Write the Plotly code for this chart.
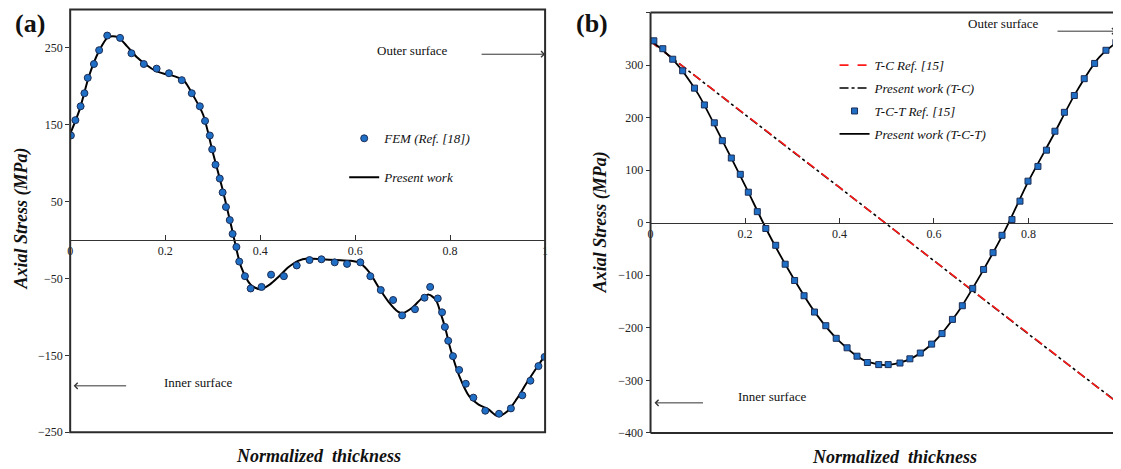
import plotly.graph_objects as go

# ---------------- Data: panel (a) ----------------
fem_x = [0.0015, 0.011, 0.022, 0.030, 0.037, 0.050, 0.061, 0.078, 0.105, 0.129, 0.155, 0.182,
         0.208, 0.235, 0.256, 0.273, 0.284, 0.294, 0.299, 0.306, 0.315, 0.321, 0.328, 0.336,
         0.342, 0.350, 0.356, 0.368, 0.380, 0.403, 0.423, 0.450, 0.477, 0.504, 0.529, 0.557,
         0.583, 0.611, 0.632, 0.654, 0.680, 0.699, 0.726, 0.746, 0.758, 0.774, 0.783, 0.789,
         0.796, 0.806, 0.819, 0.833, 0.849, 0.874, 0.903, 0.928, 0.952, 0.969, 0.986, 0.999]
fem_y = [136, 156, 174, 191, 211, 229, 247, 266, 263, 243, 229, 223,
         217, 208, 191, 174, 155, 136, 118, 98, 80, 62, 43, 26,
         8, -9, -28, -47, -63, -61, -45, -47, -33, -26, -25, -29,
         -31, -29, -47, -65, -78, -98, -90, -75, -61, -76, -94, -113,
         -131, -151, -169, -187, -205, -222, -226, -219, -202, -183, -164, -152]

pw_a_x = [0, 0.02, 0.04, 0.06, 0.08, 0.10, 0.12, 0.14, 0.16, 0.18, 0.20, 0.22, 0.24, 0.26,
          0.28, 0.30, 0.32, 0.34, 0.36, 0.38, 0.40, 0.42, 0.44, 0.46, 0.48, 0.50, 0.53, 0.56,
          0.59, 0.61, 0.63, 0.65, 0.67, 0.69, 0.70, 0.72, 0.74, 0.755, 0.77, 0.78, 0.79, 0.80,
          0.82, 0.84, 0.86, 0.88, 0.90, 0.92, 0.94, 0.96, 0.98, 1.00]
pw_a_y = [138, 170, 214, 245, 264, 264, 252, 238, 228, 220, 216, 213, 207, 187,
          163, 115, 68, 16, -35, -58, -64, -58, -47, -35, -27, -24, -25, -26,
          -27, -30, -42, -62, -80, -93, -95, -88, -76, -71, -78, -95, -115, -140,
          -178, -203, -214, -220, -229, -223, -207, -187, -168, -150]

# ---------------- Data: panel (b) ----------------
tc_x = [0, 0.1, 0.2, 0.3, 0.4, 0.5, 0.6, 0.7, 0.8, 0.9, 1.0]
tc_ref_y = [345, 276, 206, 137, 67, -3, -72, -142, -211, -281, -351]
tc_pw_y = [345, 275, 206, 136, 67, -3, -72, -142, -212, -281, -350]

tct_x = [0.007, 0.026, 0.047, 0.068, 0.093, 0.114, 0.135, 0.152, 0.171, 0.190, 0.207, 0.226,
         0.244, 0.265, 0.285, 0.305, 0.325, 0.347, 0.371, 0.393, 0.416, 0.437, 0.459, 0.483,
         0.503, 0.528, 0.549, 0.571, 0.595, 0.617, 0.639, 0.660, 0.682, 0.705, 0.725, 0.744,
         0.765, 0.782, 0.799, 0.820, 0.838, 0.856, 0.876, 0.897, 0.918, 0.940, 0.964, 0.985]
tct_y = [346, 331, 311, 289, 256, 224, 190, 156, 123, 92, 58, 21,
         -11, -43, -79, -110, -139, -170, -196, -220, -238, -254, -266, -270,
         -270, -267, -259, -248, -231, -211, -184, -158, -125, -89, -57, -24,
         6, 41, 79, 107, 138, 174, 210, 242, 274, 303, 328, 343]

pw_b_x = [0, 0.05, 0.10, 0.15, 0.20, 0.25, 0.30, 0.35, 0.40, 0.45, 0.50, 0.55, 0.60, 0.65,
          0.70, 0.75, 0.80, 0.85, 0.90, 0.95, 1.00]
pw_b_y = [347, 308, 246, 160, 71, -21, -102, -173, -226, -261, -271, -259, -227, -171,
          -97, -15, 79, 162, 247, 315, 352]

xticks_a = [0, 0.2, 0.4, 0.6, 0.8, 1.0]
xticklabels_a = ["0", "0.2", "0.4", "0.6", "0.8", "1"]
yticks_a = [-250, -150, -50, 50, 150, 250]
xticks_b = [0, 0.2, 0.4, 0.6, 0.8]
xticklabels_b = ["0", "0.2", "0.4", "0.6", "0.8"]
yticks_b = [-400, -300, -200, -100, 0, 100, 200, 300, 400]

# ---------------- Figure ----------------
RW = 1121               # reference width (layout positions measured in reference pixels)
OFF = 8                 # default body margin of the html page
KY = 477 / 469          # vertical correction observed for the capture
W, H = RW - OFF, 469
SERIF = "Liberation Serif"
BLUE = "#1f6fc6"
EDGE = "#1c2d55"

def px(x):
    return (x - OFF) / W

def py(y):
    return 1 - (y * KY - OFF) / H

fig = go.Figure()

# Panel (a)
fig.add_trace(go.Scatter(x=pw_a_x, y=pw_a_y, mode="lines", name="Present work",
                         line=dict(color="black", width=2, shape="spline", smoothing=0.8),
                         xaxis="x", yaxis="y", legend="legend", legendrank=2, legendgroup="a2"))
fig.add_trace(go.Scatter(x=fem_x, y=fem_y, mode="markers", name="FEM (Ref. [18])",
                         marker=dict(symbol="circle", size=7, color=BLUE,
                                     line=dict(color=EDGE, width=1)),
                         xaxis="x", yaxis="y", legend="legend", legendrank=1, legendgroup="a1"))

# Panel (b)
fig.add_trace(go.Scatter(x=tc_x, y=tc_pw_y, mode="lines", name="Present work (T-C)",
                         line=dict(color="black", width=1.6, dash="dashdot"),
                         xaxis="x2", yaxis="y2", legend="legend2", legendrank=2, legendgroup="b2"))
fig.add_trace(go.Scatter(x=tc_x, y=tc_ref_y, mode="lines", name="T-C Ref. [15]",
                         line=dict(color="#ff1a1a", width=1.6, dash="dash"),
                         xaxis="x2", yaxis="y2", legend="legend2", legendrank=1, legendgroup="b1"))
fig.add_trace(go.Scatter(x=pw_b_x, y=pw_b_y, mode="lines", name="Present work (T-C-T)",
                         line=dict(color="black", width=1.8, shape="spline", smoothing=0.8),
                         xaxis="x2", yaxis="y2", legend="legend2", legendrank=4, legendgroup="b4"))
fig.add_trace(go.Scatter(x=tct_x, y=tct_y, mode="markers", name="T-C-T Ref. [15]",
                         marker=dict(symbol="square", size=6, color=BLUE,
                                     line=dict(color=EDGE, width=1)),
                         xaxis="x2", yaxis="y2", legend="legend2", legendrank=3, legendgroup="b3"))

dom_a_x = [px(67.5), px(545)]
dom_a_y = [py(431.3), py(9.3)]
dom_b_x = [px(651), 1.0]
dom_b_y = [py(432), py(12.3)]

ya_range = [-250, 300]
yb_range = [-400, 400]
zero_a = dom_a_y[0] + (0 - ya_range[0]) / (ya_range[1] - ya_range[0]) * (dom_a_y[1] - dom_a_y[0])
zero_b = dom_b_y[0] + (0 - yb_range[0]) / (yb_range[1] - yb_range[0]) * (dom_b_y[1] - dom_b_y[0])

tickfont = dict(family=SERIF, size=12, color="#222222")

fig.update_layout(
    width=W, height=H,
    margin=dict(l=0, r=0, t=0, b=0),
    paper_bgcolor="white", plot_bgcolor="white",
    showlegend=True,
    xaxis=dict(domain=dom_a_x, range=[0, 1], anchor="free", position=zero_a,
               tickvals=xticks_a, ticktext=xticklabels_a, ticks="inside", ticklen=5,
               tickcolor="#333", showline=True, linecolor="#333", linewidth=1,
               showgrid=False, zeroline=False, tickfont=tickfont),
    yaxis=dict(domain=dom_a_y, range=ya_range, anchor="x",
               tickvals=yticks_a, ticks="outside", ticklen=4, tickcolor="#333",
               showline=False, showgrid=False, zeroline=False, tickfont=tickfont),
    xaxis2=dict(domain=dom_b_x, range=[0, (RW - 651) / 475], anchor="free", position=zero_b,
                tickvals=xticks_b, ticktext=xticklabels_b, ticks="inside", ticklen=5,
                tickcolor="#333", showline=True, linecolor="#333", linewidth=1,
                showgrid=False, zeroline=False, tickfont=tickfont),
    yaxis2=dict(domain=dom_b_y, range=yb_range, anchor="x2",
                tickvals=yticks_b, ticks="outside", ticklen=4, tickcolor="#333",
                showline=False, showgrid=False, zeroline=False, tickfont=tickfont),
    legend=dict(x=px(343), y=py(123), xanchor="left", yanchor="top",
                bgcolor="rgba(0,0,0,0)", traceorder="grouped", tracegroupgap=19,
                font=dict(family=SERIF, size=13, color="#111", style="italic")),
    legend2=dict(x=px(836), y=py(50), xanchor="left", yanchor="top",
                 bgcolor="rgba(0,0,0,0)", traceorder="grouped", tracegroupgap=3,
                 font=dict(family=SERIF, size=13, color="#111", style="italic")),
)

# Borders
fig.add_shape(type="rect", xref="x domain", yref="y domain", x0=0, x1=1, y0=0, y1=1,
              line=dict(color="#2b2b2b", width=2), layer="above")
for (x0, y0, x1, y1) in [(0, 0, 0, 1), (0, 0, 1, 0), (0, 1, 1, 1)]:
    fig.add_shape(type="line", xref="x2 domain", yref="y2 domain", x0=x0, y0=y0, x1=x1, y1=y1,
                  line=dict(color="#2b2b2b", width=2), layer="above")

ann_font = dict(family=SERIF, size=13, color="#111")
title_font = dict(family=SERIF, size=18, color="#111", weight="bold", style="italic")

annotations = [
    dict(x=px(27), y=py(23), text="<b>(a)</b>", font=dict(family=SERIF, size=26, color="#111")),
    dict(x=px(592), y=py(23), text="<b>(b)</b>", font=dict(family=SERIF, size=26, color="#111")),
    dict(x=px(19), y=py(218), text="Axial Stress (MPa)", textangle=-90, font=title_font),
    dict(x=px(601), y=py(222), text="Axial Stress (MPa)", textangle=-90, font=title_font),
    dict(x=px(317), y=py(455), text="Normalized  thickness", font=title_font),
    dict(x=px(896), y=py(456), text="Normalized  thickness", font=title_font),
    dict(x=px(412), y=py(50), text="Outer surface", font=ann_font),
    dict(x=px(196), y=py(382), text="Inner surface", font=ann_font),
    dict(x=px(1006), y=py(23), text="Outer surface", font=ann_font),
    dict(x=px(773), y=py(396), text="Inner surface", font=ann_font),
]
for a in annotations:
    a.update(xref="paper", yref="paper", showarrow=False, xanchor="center", yanchor="middle")
    fig.add_annotation(**a)

arrows = [
    (545, 54, -65), (71, 385, 54), (1119, 31, -60), (655, 402, 50),
]
for hx, hy, off in arrows:
    fig.add_annotation(xref="paper", yref="paper", x=px(hx), y=py(hy), ax=off, ay=0,
                       text="", showarrow=True, arrowhead=4, arrowsize=1.2, arrowwidth=1,
                       arrowcolor="#333")

fig.write_html("out.html", config={"displayModeBar": False})
